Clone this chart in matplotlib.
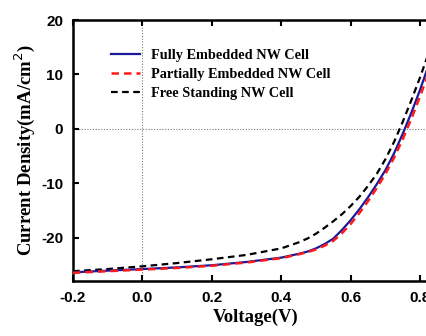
import matplotlib
matplotlib.use("Agg")
import matplotlib.pyplot as plt

voltage = [-0.2, -0.1, 0.0, 0.1, 0.2, 0.3, 0.4, 0.45, 0.475, 0.5, 0.525, 0.55, 0.575, 0.6,
           0.625, 0.65, 0.675, 0.7, 0.725, 0.75, 0.775, 0.8, 0.825, 0.85]
fully = [-26.4, -26.1, -25.8, -25.5, -25.1, -24.5, -23.7, -23.0, -22.6, -22.0, -21.2, -20.2, -18.6, -16.8,
         -14.8, -12.6, -10.2, -7.6, -4.5, -0.9, 3.0, 7.2, 11.8, 16.7]
partial = [-26.5, -26.2, -25.9, -25.6, -25.2, -24.6, -23.8, -23.1, -22.7, -22.2, -21.5, -20.6, -19.2, -17.5,
           -15.5, -13.3, -10.9, -8.3, -5.3, -1.9, 1.9, 6.0, 10.4, 15.1]
free = [-26.2, -25.8, -25.3, -24.7, -24.0, -23.2, -22.0, -20.9, -20.2, -19.3, -18.2, -17.0, -15.7, -14.2,
        -12.5, -10.5, -8.3, -5.6, -2.4, 1.3, 5.3, 9.5, 14.0, 18.8]

xticks = [-0.2, 0.0, 0.2, 0.4, 0.6, 0.8]
xticklabels = ["-0.2", "0.0", "0.2", "0.4", "0.6", "0.8"]
yticks = [-20, -10, 0, 10, 20]
yticklabels = ["-20", "-10", "0", "10", "20"]
labels = ["Fully Embedded NW Cell", "Partially Embedded NW Cell", "Free Standing NW Cell"]

fig = plt.figure(figsize=(4.26, 3.36), dpi=100)
ax = fig.add_axes([73/426, 55/336, (437.5-73)/426, 261/336])

ax.axhline(0, color="#777777", lw=0.8, ls=(0, (1, 1.5)), zorder=1)
ax.axvline(0, color="#777777", lw=0.8, ls=(0, (1, 1.5)), zorder=1)

ax.plot(voltage, fully, color="#1a1a99", lw=1.6, label=labels[0], zorder=3)
ax.plot(voltage, partial, color="#ff1a1a", lw=1.8, ls=(0, (3, 2)), label=labels[1], zorder=4)
ax.plot(voltage, free, color="black", lw=1.6, ls=(0, (3, 2)), label=labels[2], zorder=2)

ax.set_xlim(-0.2, 0.85)
ax.set_ylim(-28, 20)
ax.set_xticks(xticks)
ax.set_xticklabels(xticklabels, fontfamily="Liberation Sans", fontweight="bold", fontsize=11)
ax.set_yticks(yticks)
ax.set_yticklabels(yticklabels, fontfamily="Liberation Sans", fontweight="bold", fontsize=11)
ax.tick_params(direction="in", length=4, width=1.5, top=True, right=False, pad=7)
for s in ax.spines.values():
    s.set_linewidth(1.8)

ax.set_xlabel("Voltage(V)", fontfamily="Liberation Serif", fontweight="bold", fontsize=13.5, labelpad=3)
ax.set_ylabel("Current Density(mA/cm$^2$)", fontfamily="Liberation Serif", fontweight="bold", fontsize=13.5, labelpad=3)

leg = ax.legend(loc="upper left", bbox_to_anchor=(0.085, 0.915), frameon=False,
                prop={"family": "Liberation Serif", "weight": "bold", "size": 10.3},
                handlelength=2.0, handletextpad=0.8, labelspacing=0.4, borderpad=0)

fig.savefig("out.png", dpi=100)
